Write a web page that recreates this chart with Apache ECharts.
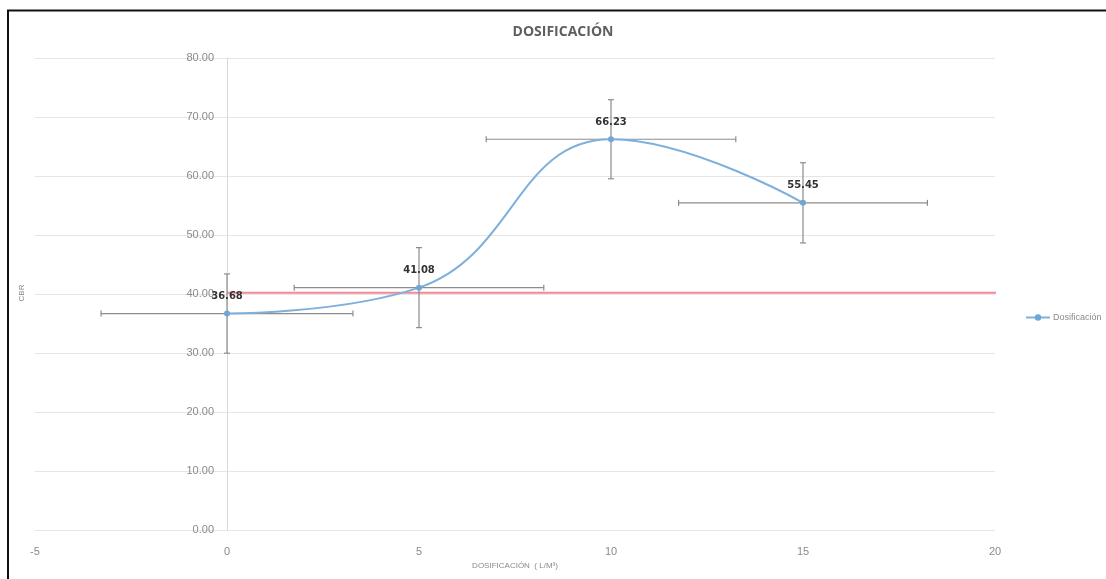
<!DOCTYPE html>
<html>
<head>
<meta charset="utf-8">
<title>DOSIFICACIÓN</title>
<script src="https://cdn.jsdelivr.net/npm/echarts@6/dist/echarts.min.js"></script>
<style>
  html, body { margin: 0; padding: 0; background: #fff; }
  #chart { width: 1106px; height: 579px; }
</style>
</head>
<body>
<div id="chart"></div>
<script>
// Dosage (L/m³) and measured CBR
const dosages = [0, 5, 10, 15];
const cbrValues = [36.68, 41.08, 66.23, 55.45];
// Error bar half-widths
const xErrors = [3.28, 3.25, 3.25, 3.24];
const yErrors = [6.72, 6.78, 6.7, 6.8];
// Reference CBR level
const referenceLevel = 40.2;
const referenceSpan = [0, 20.5];

const xTicks = [-5, 0, 5, 10, 15, 20];
const yTicks = [0, 10, 20, 30, 40, 50, 60, 70, 80];

const font = '"Liberation Sans Narrow", "Liberation Sans", sans-serif';
const labelGray = '#8a8a8a';

const gridLeft = 35, gridRight = 111, chartWidth = 1106;
const plotWidth = chartWidth - gridLeft - gridRight;
const xMin = xTicks[0], xMax = xTicks[xTicks.length - 1];
// vertical axis sits where x = 0
const yAxisOffset = -(0 - xMin) / (xMax - xMin) * plotWidth;

const chart = echarts.init(document.getElementById('chart'), null, { renderer: 'canvas' });

const errorData = dosages.map((x, i) => [x, cbrValues[i], xErrors[i], yErrors[i]]);

function renderErrorBars(params, api) {
  const x = api.value(0), y = api.value(1);
  const ex = api.value(2), ey = api.value(3);
  const l = api.coord([x - ex, y]);
  const r = api.coord([x + ex, y]);
  const t = api.coord([x, y + ey]);
  const b = api.coord([x, y - ey]);
  const cap = 3;
  const style = { stroke: '#8c8c8c', lineWidth: 1.2, fill: null };
  return {
    type: 'group',
    children: [
      { type: 'line', shape: { x1: l[0], y1: l[1], x2: r[0], y2: r[1] }, style },
      { type: 'line', shape: { x1: l[0], y1: l[1] - cap, x2: l[0], y2: l[1] + cap }, style },
      { type: 'line', shape: { x1: r[0], y1: r[1] - cap, x2: r[0], y2: r[1] + cap }, style },
      { type: 'line', shape: { x1: t[0], y1: t[1], x2: b[0], y2: b[1] }, style },
      { type: 'line', shape: { x1: t[0] - cap, y1: t[1], x2: t[0] + cap, y2: t[1] }, style },
      { type: 'line', shape: { x1: b[0] - cap, y1: b[1], x2: b[0] + cap, y2: b[1] }, style }
    ]
  };
}

const option = {
  animation: false,
  backgroundColor: '#ffffff',
  title: {
    text: 'DOSIFICACIÓN',
    left: 558,
    textAlign: 'center',
    top: 20,
    textStyle: {
      fontFamily: '"Open Sans", sans-serif',
      fontSize: 14,
      fontWeight: 'bold',
      color: '#5f5f5f'
    }
  },
  legend: {
    data: [{ name: 'Dosificación' }],
    left: 1020,
    top: 308,
    itemWidth: 24,
    itemHeight: 8,
    itemGap: 4,
    textStyle: { fontFamily: font, fontSize: 9, color: labelGray, padding: [0, 0, 0, -2] }
  },
  grid: {
    left: gridLeft, right: gridRight, top: 58, bottom: 49,
    containLabel: false,
    outerBoundsMode: 'none'
  },
  xAxis: {
    type: 'value',
    min: xMin,
    max: xMax,
    interval: 5,
    axisLine: { show: false },
    axisTick: { show: false },
    splitLine: { show: false },
    axisLabel: {
      margin: 16,
      fontFamily: font,
      fontSize: 11,
      color: labelGray,
      formatter: v => String(v)
    },
    name: 'DOSIFICACIÓN  ( L/M³)',
    nameLocation: 'middle',
    nameGap: 32,
    nameTextStyle: { fontFamily: font, fontSize: 8, color: labelGray }
  },
  yAxis: {
    type: 'value',
    min: yTicks[0],
    max: yTicks[yTicks.length - 1],
    interval: 10,
    offset: yAxisOffset,
    axisLine: { show: true, onZero: false, lineStyle: { color: '#d9d9d9', width: 1 } },
    axisTick: { show: false },
    splitLine: { show: true, lineStyle: { color: '#e6e6e6', width: 1 } },
    axisLabel: {
      margin: 13,
      fontFamily: font,
      fontSize: 11,
      color: labelGray,
      formatter: v => v.toFixed(2)
    }
  },
  graphic: [
    { type: 'line', shape: { x1: 7, y1: 10.5, x2: 1106, y2: 10.5 }, style: { stroke: '#111', lineWidth: 2 } },
    { type: 'line', shape: { x1: 8, y1: 10, x2: 8, y2: 579 }, style: { stroke: '#111', lineWidth: 2 } },
    {
      type: 'text', x: 22, y: 293, rotation: Math.PI / 2,
      style: { text: 'CBR', fontFamily: font, fontSize: 8, fill: labelGray, textAlign: 'center', textVerticalAlign: 'middle' }
    }
  ],
  series: [
    {
      name: 'Referencia',
      type: 'line',
      data: referenceSpan.map(x => [x, referenceLevel]),
      symbol: 'none',
      clip: false,
      lineStyle: { color: '#f08a96', width: 2 },
      silent: true,
      z: 2
    },
    {
      name: 'Errores',
      type: 'custom',
      data: errorData,
      renderItem: renderErrorBars,
      encode: { x: 0, y: 1 },
      clip: false,
      silent: true,
      z: 3
    },
    {
      name: 'Dosificación',
      type: 'line',
      data: dosages.map((x, i) => [x, cbrValues[i]]),
      smooth: 0.45,
      symbol: 'circle',
      symbolSize: 6,
      itemStyle: { color: '#6fa6d6' },
      lineStyle: { color: '#7db0dc', width: 2 },
      label: {
        show: true,
        position: 'top',
        distance: 9,
        fontFamily: '"DejaVu Sans", sans-serif',
        fontSize: 10,
        fontWeight: 'bold',
        color: '#333333',
        formatter: p => p.value[1].toFixed(2)
      },
      z: 4
    }
  ]
};

chart.setOption(option);
</script>
</body>
</html>
